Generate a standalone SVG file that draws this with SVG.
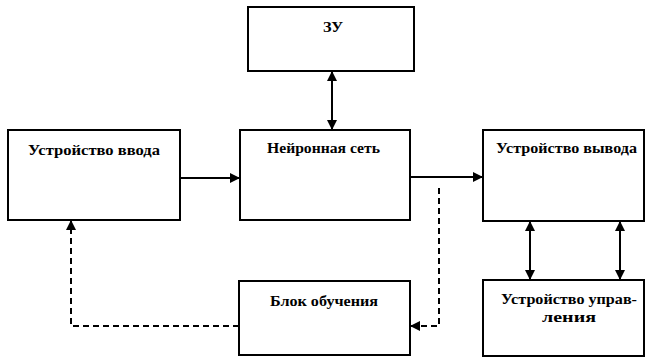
<svg xmlns="http://www.w3.org/2000/svg" width="647" height="358" viewBox="0 0 647 358">
  <style>
    .box { fill: #fff; stroke: #000; stroke-width: 2; }
    .lbl { font-weight: bold; font-size: 15px; fill: #000; }
    .line { fill: none; stroke: #000; stroke-width: 2; }
    .dash { fill: none; stroke: #000; stroke-width: 2; stroke-dasharray: 6 4; }
  </style>
  <defs>
    <marker id="arrow" viewBox="0 0 10 10" refX="9" refY="5" markerWidth="5" markerHeight="5" orient="auto-start-reverse" markerUnits="strokeWidth">
      <path d="M0,0 L10,5 L0,10 Z" fill="#000"/>
    </marker>
  </defs>
  <rect width="647" height="358" fill="#fff"/>

  <g id="connectors">
    <!-- memory <-> network -->
    <line class="line" x1="332" y1="72" x2="332" y2="129" marker-start="url(#arrow)" marker-end="url(#arrow)"/>
    <!-- input -> network -->
    <line class="line" x1="181" y1="178" x2="239" y2="178" marker-end="url(#arrow)"/>
    <!-- network -> output -->
    <line class="line" x1="411" y1="177" x2="482" y2="177" marker-end="url(#arrow)"/>
    <!-- output <-> control -->
    <line class="line" x1="530" y1="222" x2="530" y2="279" marker-start="url(#arrow)" marker-end="url(#arrow)"/>
    <line class="line" x1="620" y1="222" x2="620" y2="279" marker-start="url(#arrow)" marker-end="url(#arrow)"/>
    <!-- network -> training (dashed) -->
    <polyline class="dash" points="439,188 439,326 411,326" marker-end="url(#arrow)"/>
    <!-- training -> input (dashed) -->
    <polyline class="dash" points="239,326 71,326 71,221" marker-end="url(#arrow)"/>
  </g>

  <g font-family="Liberation Serif, DejaVu Serif, serif">
    <g id="memory">
      <rect class="box" x="248" y="7" width="166" height="64"/>
      <text class="lbl" x="323" y="32" textLength="20" lengthAdjust="spacingAndGlyphs">ЗУ</text>
    </g>

    <g id="input">
      <rect class="box" x="8" y="130" width="172" height="90"/>
      <text class="lbl" x="28" y="155" textLength="132" lengthAdjust="spacingAndGlyphs">Устройство ввода</text>
    </g>

    <g id="network">
      <rect class="box" x="240" y="130" width="170" height="90"/>
      <text class="lbl" x="267" y="153" textLength="113" lengthAdjust="spacingAndGlyphs">Нейронная сеть</text>
    </g>

    <g id="output">
      <rect class="box" x="483" y="130" width="161" height="91"/>
      <text class="lbl" x="496" y="153" textLength="141" lengthAdjust="spacingAndGlyphs">Устройство вывода</text>
    </g>

    <g id="control">
      <rect class="box" x="483" y="280" width="161" height="76"/>
      <text class="lbl" x="501" y="304" textLength="136" lengthAdjust="spacingAndGlyphs">Устройство управ-</text>
      <text class="lbl" x="542" y="322" textLength="54" lengthAdjust="spacingAndGlyphs">ления</text>
    </g>

    <g id="training">
      <rect class="box" x="239" y="281" width="171" height="74"/>
      <text class="lbl" x="270" y="306" textLength="108" lengthAdjust="spacingAndGlyphs">Блок обучения</text>
    </g>
  </g>
</svg>
